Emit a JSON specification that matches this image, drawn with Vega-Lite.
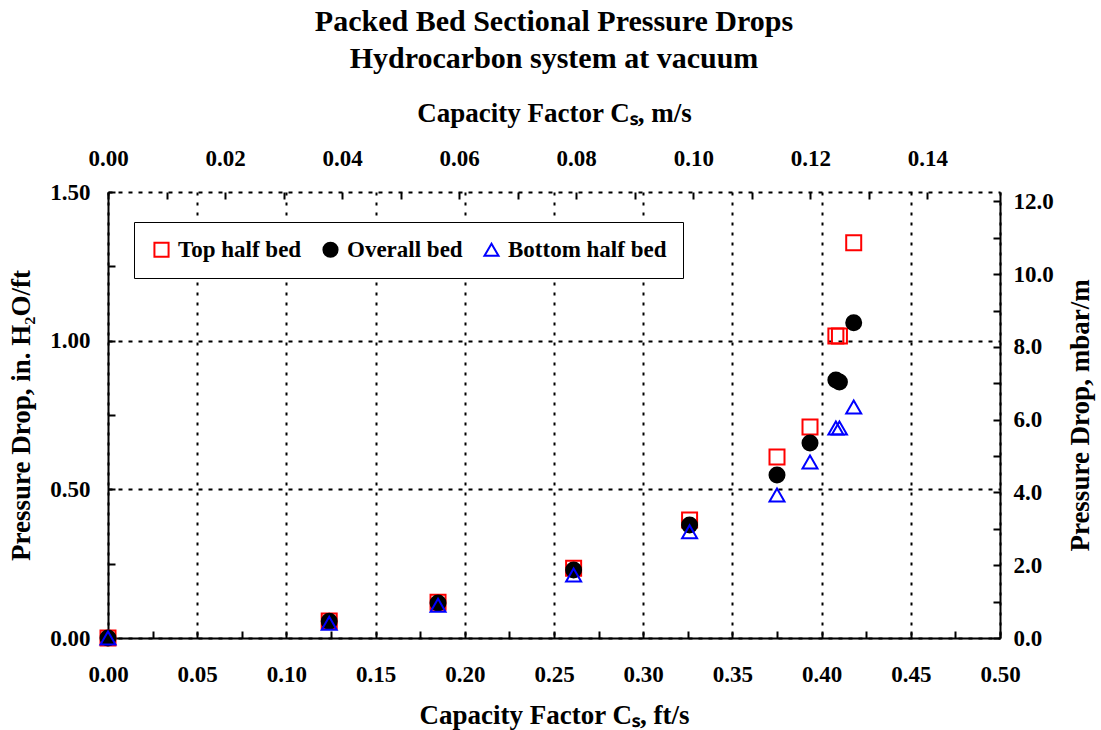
{
  "$schema": "https://vega.github.io/schema/vega-lite/v6.json",
  "width": 892,
  "height": 446,
  "autosize": {"type": "none"},
  "padding": {"left": 108, "top": 192, "right": 101, "bottom": 92},
  "background": "white",
  "title": {
    "text": ["Packed Bed Sectional Pressure Drops", "Hydrocarbon system at vacuum"],
    "font": "Liberation Serif",
    "fontSize": 30,
    "fontWeight": "bold",
    "color": "black",
    "anchor": "middle",
    "frame": "group",
    "lineHeight": 37.5,
    "offset": 25
  },
  "config": {
    "view": {"stroke": null},
    "axis": {
      "labelFont": "Liberation Serif",
      "labelFontSize": 23,
      "labelFontWeight": "bold",
      "labelColor": "black",
      "titleFont": "Liberation Serif",
      "titleFontSize": 27,
      "titleFontWeight": "bold",
      "titleColor": "black",
      "domainColor": "black",
      "domainWidth": 2,
      "tickColor": "black",
      "tickWidth": 2,
      "tickSize": -7,
      "labelOverlap": false,
      "labelFlush": false
    },
    "legend": {
      "orient": "none",
      "legendX": 26,
      "legendY": 30,
      "direction": "horizontal",
      "strokeColor": "black",
      "fillColor": "white",
      "padding": 16,
      "labelFont": "Liberation Serif",
      "labelFontSize": 23,
      "labelFontWeight": "bold",
      "labelColor": "black",
      "symbolSize": 200,
      "symbolStrokeWidth": 2,
      "columnPadding": 17,
      "labelOffset": 5
    }
  },
  "layer": [
    {
      "data": {
        "values": [
          {"series": "Top half bed", "cs": 0.0, "dp": 0.0},
          {"series": "Top half bed", "cs": 0.124, "dp": 0.057},
          {"series": "Top half bed", "cs": 0.185, "dp": 0.12},
          {"series": "Top half bed", "cs": 0.261, "dp": 0.235},
          {"series": "Top half bed", "cs": 0.326, "dp": 0.397},
          {"series": "Top half bed", "cs": 0.375, "dp": 0.609},
          {"series": "Top half bed", "cs": 0.3935, "dp": 0.71},
          {"series": "Top half bed", "cs": 0.408, "dp": 1.016},
          {"series": "Top half bed", "cs": 0.410, "dp": 1.016},
          {"series": "Top half bed", "cs": 0.418, "dp": 1.329},
          {"series": "Overall bed", "cs": 0.0, "dp": 0.0},
          {"series": "Overall bed", "cs": 0.124, "dp": 0.056},
          {"series": "Overall bed", "cs": 0.185, "dp": 0.118},
          {"series": "Overall bed", "cs": 0.261, "dp": 0.229},
          {"series": "Overall bed", "cs": 0.326, "dp": 0.38},
          {"series": "Overall bed", "cs": 0.375, "dp": 0.548},
          {"series": "Overall bed", "cs": 0.3935, "dp": 0.656},
          {"series": "Overall bed", "cs": 0.408, "dp": 0.868},
          {"series": "Overall bed", "cs": 0.410, "dp": 0.861},
          {"series": "Overall bed", "cs": 0.418, "dp": 1.06},
          {"series": "Bottom half bed", "cs": 0.0, "dp": 0.0},
          {"series": "Bottom half bed", "cs": 0.124, "dp": 0.05},
          {"series": "Bottom half bed", "cs": 0.185, "dp": 0.11},
          {"series": "Bottom half bed", "cs": 0.261, "dp": 0.212},
          {"series": "Bottom half bed", "cs": 0.326, "dp": 0.357},
          {"series": "Bottom half bed", "cs": 0.375, "dp": 0.481},
          {"series": "Bottom half bed", "cs": 0.3935, "dp": 0.592},
          {"series": "Bottom half bed", "cs": 0.408, "dp": 0.706},
          {"series": "Bottom half bed", "cs": 0.410, "dp": 0.706},
          {"series": "Bottom half bed", "cs": 0.418, "dp": 0.777}
        ]
      },
      "mark": {"type": "point", "strokeWidth": 2, "opacity": 1, "size": 225},
      "encoding": {
        "x": {
          "field": "cs",
          "type": "quantitative",
          "scale": {"domain": [0, 0.5], "nice": false, "zero": false},
          "axis": {
            "orient": "bottom",
            "title": "Capacity Factor Cₛ,  ft/s",
            "values": [0, 0.025, 0.05, 0.075, 0.1, 0.125, 0.15, 0.175, 0.2, 0.225, 0.25, 0.275, 0.3, 0.325, 0.35, 0.375, 0.4, 0.425, 0.45, 0.475, 0.5],
            "labelExpr": "round(datum.value*1000) % 50 == 0 ? format(datum.value, '.2f') : ''",
            "grid": true,
            "gridColor": "black",
            "gridWidth": 2,
            "gridDash": [3, 7],
            "gridOpacity": {"condition": {"test": "round(datum.value*1000) % 50 == 0", "value": 1}, "value": 0},
            "labelPadding": 32,
            "titlePadding": 16
          }
        },
        "y": {
          "field": "dp",
          "type": "quantitative",
          "scale": {"domain": [0, 1.5], "nice": false, "zero": false},
          "axis": {
            "orient": "left",
            "title": "Pressure Drop,  in. H₂O/ft",
            "values": [0, 0.25, 0.5, 0.75, 1.0, 1.25, 1.5],
            "labelExpr": "round(datum.value*100) % 50 == 0 ? format(datum.value, '.2f') : ''",
            "grid": true,
            "gridColor": "black",
            "gridWidth": 2,
            "gridDash": [4, 6],
            "gridOpacity": {"condition": {"test": "round(datum.value*100) % 50 == 0", "value": 1}, "value": 0},
            "labelPadding": 25,
            "titlePadding": 14
          }
        },
        "shape": {
          "field": "series",
          "type": "nominal",
          "scale": {"domain": ["Top half bed", "Overall bed", "Bottom half bed"], "range": ["square", "circle", "triangle-up"]},
          "legend": {"title": null}
        },
        "stroke": {
          "field": "series",
          "type": "nominal",
          "scale": {"domain": ["Top half bed", "Overall bed", "Bottom half bed"], "range": ["#ff0000", "#000000", "#0000ff"]},
          "legend": {"title": null}
        },
        "fill": {
          "field": "series",
          "type": "nominal",
          "scale": {"domain": ["Top half bed", "Overall bed", "Bottom half bed"], "range": ["transparent", "#000000", "transparent"]},
          "legend": {"title": null}
        }
      }
    },
    {
      "data": {"values": [{"ms": 0, "mbar": 0}, {"ms": 0.1524, "mbar": 12.258}]},
      "mark": {"type": "point", "opacity": 0},
      "encoding": {
        "x": {
          "field": "ms",
          "type": "quantitative",
          "scale": {"domain": [0, 0.1524], "nice": false, "zero": false},
          "axis": {
            "orient": "top",
            "title": "Capacity Factor Cₛ, m/s",
            "values": [0, 0.01, 0.02, 0.03, 0.04, 0.05, 0.06, 0.07, 0.08, 0.09, 0.1, 0.11, 0.12, 0.13, 0.14],
            "labelExpr": "round(datum.value*100) % 2 == 0 ? format(datum.value, '.2f') : ''",
            "domain": false,
            "grid": false,
            "labelPadding": 29,
            "titlePadding": 20
          }
        },
        "y": {
          "field": "mbar",
          "type": "quantitative",
          "scale": {"domain": [0, 12.258], "nice": false, "zero": false},
          "axis": {
            "orient": "right",
            "title": "Pressure Drop, mbar/m",
            "titleAngle": 270,
            "titleBaseline": "top",
            "values": [0, 1, 2, 3, 4, 5, 6, 7, 8, 9, 10, 11, 12],
            "labelExpr": "datum.value % 2 == 0 ? format(datum.value, '.1f') : ''",
            "grid": false,
            "labelPadding": 20,
            "titlePadding": 14
          }
        }
      }
    }
  ],
  "resolve": {"scale": {"x": "independent", "y": "independent"}}
}
